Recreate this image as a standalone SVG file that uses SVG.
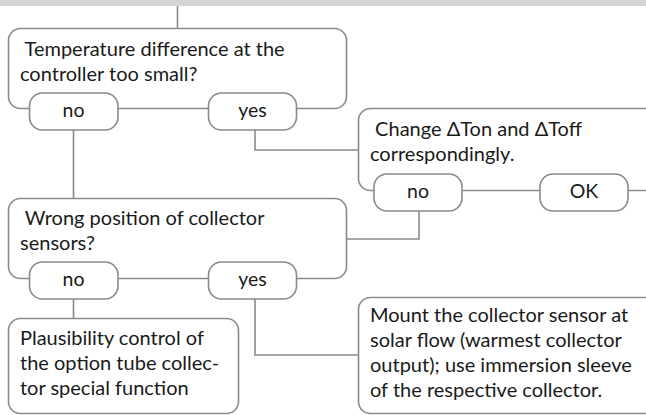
<svg xmlns="http://www.w3.org/2000/svg" width="646" height="415" viewBox="0 0 646 415">
<style>
.box{fill:#fff;stroke:#8a8a8a;stroke-width:1.6}
.pill{fill:#fff;stroke:#8a8a8a;stroke-width:1.6}
.con{fill:none;stroke:#8a8a8a;stroke-width:1.6}
text{font-family:Lato,"Open Sans",sans-serif;font-size:20px;fill:#1a1a1a}
.pt{text-anchor:middle;font-size:19.5px}
</style>
<rect x="0" y="0" width="646" height="6" fill="#d4d4d4"/>
<g id="connectors">
<path class="con" d="M177.5 6V28"/>
<path class="con" d="M73.5 129V198"/>
<path class="con" d="M255 129V150H358"/>
<path class="con" d="M419 210V239H347"/>
<path class="con" d="M73.5 298V318"/>
<path class="con" d="M255 298V355H358"/>
</g>
<g id="q1">
<rect class="box" x="8.5" y="28.5" width="338" height="80" rx="12"/>
<text x="20" y="56">&#160;Temperature difference at the</text>
<text x="20" y="81">controller too small?</text>
</g>
<g id="q1-no">
<rect class="pill" x="29.5" y="93" width="88.5" height="37" rx="13"/>
<text class="pt" x="73.5" y="117">no</text>
</g>
<g id="q1-yes">
<rect class="pill" x="208.5" y="93" width="88" height="37" rx="13"/>
<text class="pt" x="252.5" y="117">yes</text>
</g>
<g id="change">
<rect class="box" x="358.5" y="108.5" width="300" height="82" rx="12"/>
<text x="370" y="136">&#160;Change ΔTon and ΔToff</text>
<text x="370" y="161">correspondingly.</text>
</g>
<g id="change-no">
<rect class="pill" x="374" y="174" width="88" height="37" rx="13"/>
<text class="pt" x="418" y="198">no</text>
</g>
<g id="change-ok">
<rect class="pill" x="540" y="174" width="88" height="37" rx="13"/>
<text class="pt" x="584" y="198">OK</text>
</g>
<g id="q2">
<rect class="box" x="8.5" y="198.5" width="338" height="80" rx="12"/>
<text x="20" y="225">&#160;Wrong position of collector</text>
<text x="20" y="250">sensors?</text>
</g>
<g id="q2-no">
<rect class="pill" x="29.5" y="262" width="88.5" height="37" rx="13"/>
<text class="pt" x="73.5" y="286">no</text>
</g>
<g id="q2-yes">
<rect class="pill" x="208.5" y="262" width="88" height="37" rx="13"/>
<text class="pt" x="252.5" y="286">yes</text>
</g>
<g id="plausibility">
<rect class="box" x="8.5" y="318.5" width="230" height="95" rx="12"/>
<text x="20" y="345">Plausibility control of</text>
<text x="20" y="370">the option tube collec-</text>
<text x="20" y="395">tor special function</text>
</g>
<g id="mount">
<rect class="box" x="358.5" y="297.5" width="300" height="116" rx="12"/>
<text x="370" y="322">Mount the collector sensor at</text>
<text x="370" y="347">solar flow (warmest collector</text>
<text x="370" y="372">output); use immersion sleeve</text>
<text x="370" y="397">of the respective collector.</text>
</g>
</svg>
